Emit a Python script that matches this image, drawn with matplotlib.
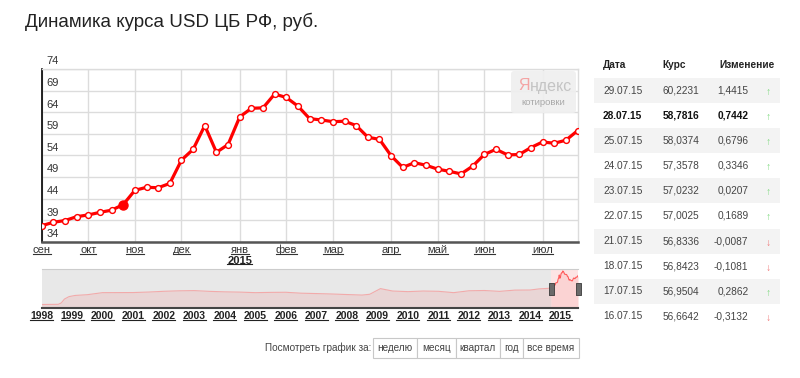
import datetime as dt
import matplotlib
matplotlib.use('Agg')
import matplotlib.pyplot as plt
from matplotlib.patches import Rectangle, FancyBboxPatch
from matplotlib.lines import Line2D
from matplotlib.transforms import IdentityTransform, blended_transform_factory

plt.rcParams['font.family'] = ['Liberation Sans', 'DejaVu Sans']

W, H = 800, 378

# weekly USD/RUB (CB RF), one point per week, last point = 28.07.15
usd_week = [37.7, 38.5, 38.9, 39.8, 40.2, 40.8, 41.3, 42.6, 45.9, 46.6,
            46.5, 47.5, 52.9, 55.4, 60.9, 54.7, 56.5, 62.9, 64.9, 65.0,
            68.2, 67.4, 65.4, 62.5, 62.2, 61.8, 61.9, 60.9, 58.2, 57.7,
            53.9, 51.2, 52.3, 51.7, 50.8, 50.3, 49.7, 51.5, 54.2, 55.4,
            54.1, 54.2, 55.8, 57.1, 56.8, 57.5, 59.7]
last_date = dt.date(2015, 7, 28)
highlight_idx = 7
months_ru = ['янв', 'фев', 'мар', 'апр', 'май', 'июн',
             'июл', 'авг', 'сен', 'окт', 'ноя', 'дек']
y_ticks = [34, 39, 44, 49, 54, 59, 64, 69, 74]

# long history for the navigator strip (decimal year, rate)
nav_years = [1998.0, 1998.55, 1998.65, 1998.75, 1998.9, 1999.1, 1999.5, 2000.0,
             2000.5, 2001.0, 2001.5, 2002.0, 2002.5, 2003.0, 2003.5, 2004.0,
             2004.5, 2005.0, 2005.5, 2006.0, 2006.5, 2007.0, 2007.5, 2008.0,
             2008.5, 2008.75, 2009.1, 2009.5, 2010.0, 2010.5, 2011.0, 2011.5,
             2012.0, 2012.5, 2013.0, 2013.5, 2014.0, 2014.3, 2014.6]
nav_vals = [5.96, 6.3, 9.0, 16.0, 20.6, 22.8, 24.2, 28.0,
            28.1, 28.2, 29.1, 30.5, 31.4, 31.8, 30.4, 29.5,
            29.0, 28.0, 28.5, 28.7, 27.0, 26.3, 25.5, 24.5,
            23.5, 25.0, 35.5, 31.0, 29.9, 31.0, 30.5, 28.0,
            31.5, 32.0, 30.4, 32.7, 32.9, 35.0, 36.0]
nav_year_labels = list(range(1998, 2016))

# table on the right
tbl_dates = ['29.07.15', '28.07.15', '25.07.15', '24.07.15', '23.07.15',
             '22.07.15', '21.07.15', '18.07.15', '17.07.15', '16.07.15']
tbl_rates = [60.2231, 58.7816, 58.0374, 57.3578, 57.0232,
             57.0025, 56.8336, 56.8423, 56.9504, 56.6642]
tbl_change = [1.4415, 0.7442, 0.6796, 0.3346, 0.0207,
              0.1689, -0.0087, -0.1081, 0.2862, -0.3132]
tbl_bold_row = 1

buttons = ['неделю', 'месяц', 'квартал', 'год', 'все время']
button_edges = [373.3, 417.3, 455.7, 500, 522.7, 579.3]


def fx(x):
    return x / W


def fy(y):
    return 1 - y / H


def dec_year(d):
    start = dt.date(d.year, 1, 1)
    days = (dt.date(d.year + 1, 1, 1) - start).days
    return d.year + (d - start).days / days


n = len(usd_week)
dates = [last_date - dt.timedelta(weeks=n - 1 - i) for i in range(n)]
month_idx = [i for i in range(n) if i == 0 or dates[i].month != dates[i - 1].month]

fig = plt.figure(figsize=(W / 100, H / 100), dpi=100)
underline = []

# ---- main chart
ax = fig.add_axes([fx(41.7), fy(241.7), (577.5 - 41.7) / W, (241.7 - 69) / H])
ax.set_xlim(0, n - 1)
ax.set_ylim(34, 74)
ax.set_yticks(y_ticks)
ax.set_xticks(month_idx)
ax.tick_params(length=0, labelleft=False, labelbottom=False)
ax.grid(color='#dcdcdc', lw=1)
ax.set_axisbelow(True)
for s in ['top', 'right']:
    ax.spines[s].set_color('#dcdcdc')
    ax.spines[s].set_linewidth(1)
ax.spines['left'].set_color('#000000')
ax.spines['left'].set_linewidth(1.2)
ax.spines['bottom'].set_color('#555555')
ax.spines['bottom'].set_linewidth(1.8)

ax.plot(range(n), usd_week, color='#ff0000', lw=2.3, marker='o', ms=4.2,
        mfc='white', mec='#ff0000', mew=1.0, zorder=3)
ax.plot(highlight_idx, usd_week[highlight_idx], 'o', ms=6.5, color='#ff0000', zorder=4)

for v in y_ticks:
    ax.annotate(str(v), xy=(0, v), xycoords=ax.get_yaxis_transform(),
                xytext=(5, 7.5), textcoords='offset pixels', fontsize=8,
                color='#333333', ha='left', va='center', annotation_clip=False)

for i in month_idx:
    t = ax.annotate(months_ru[dates[i].month - 1], xy=(i, 0),
                    xycoords=ax.get_xaxis_transform(), xytext=(0, -8.5),
                    textcoords='offset pixels', fontsize=8, color='#333333',
                    ha='center', va='center', annotation_clip=False)
    underline.append(t)
    if dates[i].month == 1:
        t = ax.annotate(str(dates[i].year), xy=(i, 0),
                        xycoords=ax.get_xaxis_transform(), xytext=(0, -19),
                        textcoords='offset pixels', fontsize=8, color='#222222',
                        fontweight='bold', ha='center', va='center',
                        annotation_clip=False)
        underline.append(t)

# ---- navigator strip
main_years = [dec_year(d) for d in dates]
sel_start, sel_end = main_years[0], main_years[-1]
nav = fig.add_axes([fx(41.5), fy(307.7), (578 - 41.5) / W, (307.7 - 269) / H])
nav.set_xlim(nav_years[0], sel_end)
nav.set_ylim(0, 72)
nav.set_xticks([])
nav.set_yticks([])
for s in ['left', 'right']:
    nav.spines[s].set_visible(False)
nav.spines['top'].set_color('#cccccc')
nav.spines['bottom'].set_color('#444444')
nav.spines['bottom'].set_linewidth(1.5)
nav.axvspan(nav_years[0], sel_start, color='#e8e8e8', lw=0)
nav.axvspan(sel_start, sel_end, color='#fde4e4', lw=0)
hist_x = nav_years + [main_years[0]]
hist_y = nav_vals + [usd_week[0]]
nav.fill_between(hist_x, hist_y, color='#e9d5d5', lw=0)
nav.plot(hist_x, hist_y, color='#f2aaaa', lw=0.8)
nav.fill_between(main_years, usd_week, color='#fbd3d3', lw=0)
nav.plot(main_years, usd_week, color='#ff5a5a', lw=0.8)
bt = blended_transform_factory(nav.transData, nav.transAxes)
handle = [(-0.45, -1), (0.45, -1), (0.45, 1), (-0.45, 1), (-0.45, -1)]
nav.plot([sel_start, sel_end], [0.49, 0.49], transform=bt, ls='none',
         marker=handle, ms=8, mfc='#6a6a6a', mec='#3a3a3a', mew=0.6,
         clip_on=False, zorder=5)
for yr in nav_year_labels:
    t = nav.annotate(str(yr), xy=(yr, 0), xycoords=nav.get_xaxis_transform(),
                     xytext=(0, -8.5), textcoords='offset pixels', fontsize=7.5,
                     color='#222222', fontweight='bold', ha='center', va='center',
                     annotation_clip=False)
    underline.append(t)

# ---- overlay in pixel coordinates: title, watermark, table, buttons
ov = fig.add_axes([0, 0, 1, 1])
ov.set_xlim(0, W)
ov.set_ylim(H, 0)
ov.axis('off')
ov.set_zorder(10)

ov.text(25, 21.5, 'Динамика курса USD ЦБ РФ, руб.', fontsize=13.5,
        color='#222222', ha='left', va='center')

ov.add_patch(FancyBboxPatch((511, 71), 65, 42,
                            boxstyle='round,pad=0,rounding_size=3',
                            fc='#efefef', ec='none', alpha=0.9))
ya = ov.text(518, 86, 'Я', fontsize=11.5, color='#f4a3a3', ha='left', va='center')
ov.annotate('ндекс', xy=(1, 0.5), xycoords=ya, fontsize=11.5, color='#c4c4c4',
            ha='left', va='center')
ov.text(543.5, 102.7, 'котировки', fontsize=6.8, color='#a8a8a8',
        ha='center', va='center')

ov.text(603, 65, 'Дата', fontsize=7.3, fontweight='bold', color='#222222', va='center')
ov.text(662.7, 65, 'Курс', fontsize=7.3, fontweight='bold', color='#222222', va='center')
ov.text(719.3, 65, 'Изменение', fontsize=7.3, fontweight='bold', color='#222222',
        va='center')
for k in range(len(tbl_dates)):
    ty = 90.7 + 25.05 * k
    if k % 2 == 0:
        ov.add_patch(Rectangle((594, ty - 12.5), 186, 25, fc='#f3f3f3', ec='none'))
    bold = 'bold' if k == tbl_bold_row else 'normal'
    col = '#111111' if k == tbl_bold_row else '#444444'
    ov.text(603, ty, tbl_dates[k], fontsize=7.3, color=col, fontweight=bold, va='center')
    ov.text(662.7, ty, f'{tbl_rates[k]:.4f}'.replace('.', ','), fontsize=7.3,
            color=col, fontweight=bold, va='center')
    ov.text(748.5, ty, f'{tbl_change[k]:.4f}'.replace('.', ','), fontsize=7.3,
            color=col, fontweight=bold, va='center', ha='right')
    up = tbl_change[k] >= 0
    ov.text(768.3, ty + 1.5, '↑' if up else '↓', fontsize=7.5,
            color='#7fd97f' if up else '#f07a7a', ha='center', va='center')

ov.text(371.5, 347.7, 'Посмотреть график за:', fontsize=7.2, color='#444444',
        ha='right', va='center')
for j, b in enumerate(buttons):
    x0, x1 = button_edges[j], button_edges[j + 1]
    ov.add_patch(Rectangle((x0, 338.3), x1 - x0, 19.4, fc='white', ec='#c8c8c8', lw=0.8))
    ov.text((x0 + x1) / 2, 347.9, b, fontsize=7.2, color='#444444',
            ha='center', va='center')

# underline the axis labels (they are links on the page)
fig.canvas.draw()
r = fig.canvas.get_renderer()
for t in underline:
    bb = t.get_window_extent(r)
    fig.add_artist(Line2D([bb.x0, bb.x1], [bb.y0 + 1.3, bb.y0 + 1.3],
                          transform=IdentityTransform(), color=t.get_color(), lw=0.8))

fig.savefig('out.png', dpi=100)
